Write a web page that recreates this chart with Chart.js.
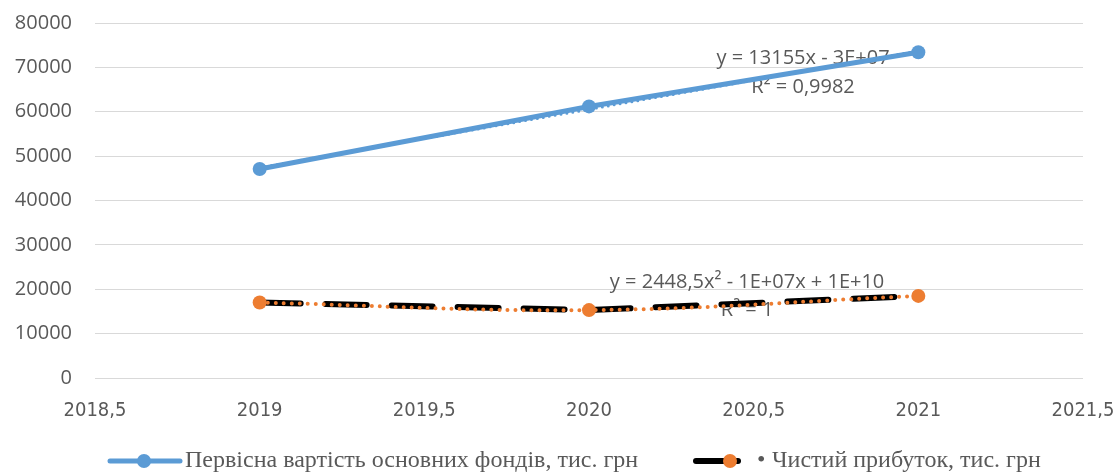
<!DOCTYPE html>
<html>
<head>
<meta charset="utf-8">
<script src="https://cdn.jsdelivr.net/npm/chart.js@4.4.1/dist/chart.umd.min.js"></script>
<style>
  html, body { margin: 0; padding: 0; background: #fff; }
  #wrap { width: 1117px; height: 474px; }
</style>
</head>
<body>
<div id="wrap"><canvas id="chart"></canvas></div>
<script>
// data
const years = [2019, 2020, 2021];
const fixedAssets = [47100, 61200, 73400];
const netProfit = [17000, 15300, 18500];
const trendYears = [2019, 2021];
const assetsTrend = [47400, 73700];
const xTicks = [2018.5, 2019, 2019.5, 2020, 2020.5, 2021, 2021.5];
const seriesNames = ['Первісна вартість основних фондів, тис. грн', 'Чистий прибуток, тис. грн'];
const trendText = [
    { lines: ['y = 13155x - 3E+07', 'R² = 0,9982'], x: 2020.65, y: [72100, 65600] },
    { lines: ['y = 2448,5x² - 1E+07x + 1E+10', 'R² = 1'], x: 2020.48, y: [21600, 15300] }
];

const BLUE = '#5b9bd5';
const ORANGE = '#ed7d31';
const GREY_TEXT = '#595959';

const pts = (xs, ys) => xs.map((x, i) => ({ x: x, y: ys[i] }));

// trendline equations, drawn under the lines
const equationPlugin = {
    id: 'equations',
    beforeDatasetsDraw(chart) {
        const ctx = chart.ctx;
        const xs = chart.scales.x, ys = chart.scales.y;
        ctx.save();
        ctx.font = '20px "Open Sans"';
        ctx.fillStyle = GREY_TEXT;
        ctx.textAlign = 'center';
        ctx.textBaseline = 'middle';
        trendText.forEach(t => {
            t.lines.forEach((line, i) => {
                ctx.fillText(line, xs.getPixelForValue(t.x), ys.getPixelForValue(t.y[i]));
            });
        });
        ctx.restore();
    }
};

// legend with line + marker swatches like the original
const legendPlugin = {
    id: 'customLegend',
    afterDraw(chart) {
        const ctx = chart.ctx;
        const y = 461;
        ctx.save();
        ctx.lineCap = 'round';

        // entry 1
        ctx.strokeStyle = BLUE;
        ctx.lineWidth = 5;
        ctx.beginPath(); ctx.moveTo(110, y); ctx.lineTo(180, y); ctx.stroke();
        ctx.fillStyle = BLUE;
        ctx.beginPath(); ctx.arc(144, y, 7, 0, Math.PI * 2); ctx.fill();

        // entry 2
        ctx.strokeStyle = '#000';
        ctx.lineWidth = 6;
        ctx.beginPath(); ctx.moveTo(696, y); ctx.lineTo(738, y); ctx.stroke();
        ctx.fillStyle = ORANGE;
        ctx.beginPath(); ctx.arc(730, y, 7, 0, Math.PI * 2); ctx.fill();

        ctx.fillStyle = GREY_TEXT;
        ctx.font = '24px "Liberation Serif"';
        ctx.textBaseline = 'middle';
        ctx.fillText(seriesNames[0], 185, y);
        ctx.fillText('•', 757, y);
        ctx.fillText(seriesNames[1], 772, y);
        ctx.restore();
    }
};

new Chart(document.getElementById('chart'), {
    type: 'line',
    data: {
        datasets: [
            {
                label: seriesNames[0],
                data: pts(years, fixedAssets),
                borderColor: BLUE,
                borderWidth: 5,
                pointRadius: 7,
                pointBorderWidth: 0,
                pointBackgroundColor: BLUE,
                order: 1
            },
            {
                label: 'Linear trend',
                data: pts(trendYears, assetsTrend),
                borderColor: BLUE,
                borderWidth: 3,
                borderDash: [0, 6],
                borderCapStyle: 'round',
                pointRadius: 0,
                order: 2
            },
            {
                label: seriesNames[1],
                data: pts(years, netProfit),
                borderColor: '#000',
                borderWidth: 6,
                borderDash: [41, 25],
                borderCapStyle: 'round',
                pointRadius: 7,
                pointBorderWidth: 0,
                pointBackgroundColor: ORANGE,
                order: 3
            },
            {
                label: 'Poly trend',
                data: pts(years, netProfit),
                borderColor: ORANGE,
                borderWidth: 4,
                borderDash: [0, 8],
                borderCapStyle: 'round',
                tension: 0.4,
                pointRadius: 0,
                order: 0
            }
        ]
    },
    options: {
        responsive: true,
        maintainAspectRatio: false,
        animation: false,
        layout: { padding: { top: 23, right: 34, left: 0, bottom: 0 } },
        plugins: {
            legend: { display: false },
            tooltip: { enabled: false }
        },
        scales: {
            x: {
                type: 'linear',
                min: 2018.5,
                max: 2021.5,
                afterBuildTicks: scale => { scale.ticks = xTicks.map(v => ({ value: v })); },
                afterFit: scale => {
                    scale.height = 96;
                    scale.paddingLeft = 0;
                    scale.paddingRight = 0;
                },
                grid: { display: false, drawTicks: false },
                border: { display: false },
                ticks: {
                    padding: 21,
                    maxRotation: 0,
                    color: GREY_TEXT,
                    font: { family: '"Liberation Sans Narrow", "DejaVu Sans Condensed", sans-serif', size: 20 },
                    callback: v => String(v).replace('.', ',')
                }
            },
            y: {
                min: 0,
                max: 80000,
                afterFit: scale => {
                    scale.width = 95;
                    scale.paddingTop = 0;
                    scale.paddingBottom = 0;
                },
                grid: { color: '#d9d9d9', lineWidth: 1, drawTicks: false },
                border: { display: false },
                ticks: {
                    stepSize: 10000,
                    padding: 23,
                    color: GREY_TEXT,
                    font: { family: '"Open Sans"', size: 20 },
                    callback: v => String(v)
                }
            }
        }
    },
    plugins: [equationPlugin, legendPlugin]
});
</script>
</body>
</html>
